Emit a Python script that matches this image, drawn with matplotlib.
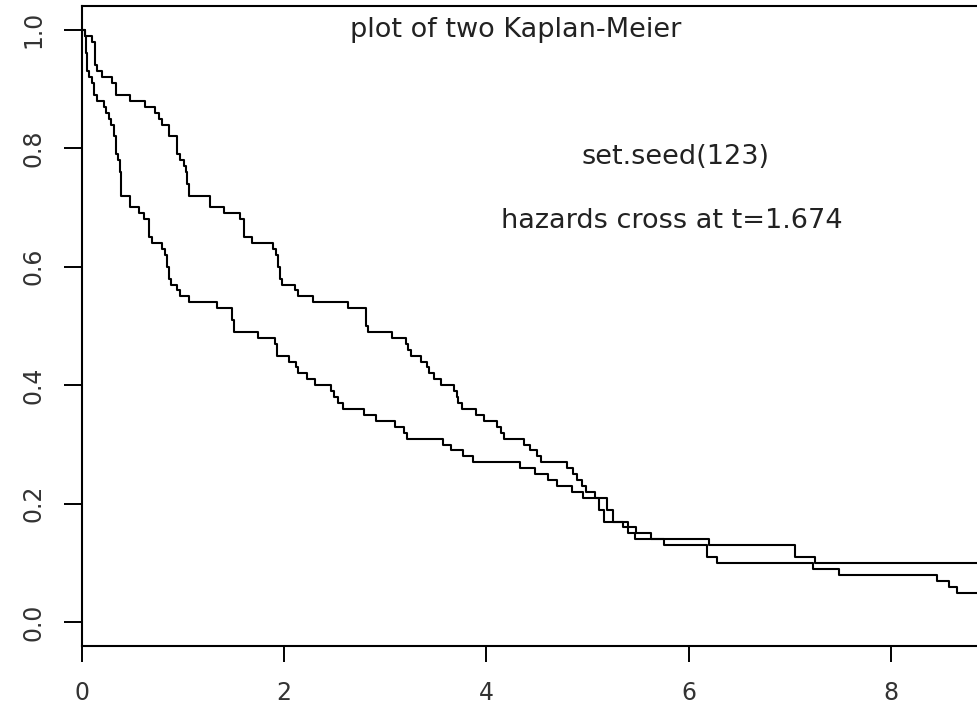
import matplotlib
matplotlib.use("Agg")
import matplotlib.pyplot as plt

# Kaplan-Meier step estimates for the two simulated groups (time, survival)
time_a = [0.0, 0.025, 0.037, 0.050, 0.069, 0.103, 0.116, 0.149, 0.215, 0.241,
          0.267, 0.290, 0.314, 0.334, 0.356, 0.380, 0.390, 0.472, 0.564, 0.615,
          0.658, 0.697, 0.796, 0.818, 0.841, 0.861, 0.885, 0.940, 0.974, 1.059,
          1.336, 1.488, 1.501, 1.742, 1.907, 1.927, 2.049, 2.115, 2.138, 2.222,
          2.308, 2.468, 2.491, 2.533, 2.583, 2.788, 2.906, 3.094, 3.184, 3.220,
          3.570, 3.655, 3.767, 3.873, 4.332, 4.480, 4.612, 4.700, 4.843, 4.958,
          5.196, 5.250, 5.403, 5.478, 5.625, 6.205, 7.053, 7.251, 9.000]
surv_a = [1.00, 0.99, 0.96, 0.93, 0.92, 0.91, 0.89, 0.88, 0.87, 0.86,
          0.85, 0.84, 0.82, 0.79, 0.78, 0.76, 0.72, 0.70, 0.69, 0.68,
          0.65, 0.64, 0.63, 0.62, 0.60, 0.58, 0.57, 0.56, 0.55, 0.54,
          0.53, 0.51, 0.49, 0.48, 0.47, 0.45, 0.44, 0.43, 0.42, 0.41,
          0.40, 0.39, 0.38, 0.37, 0.36, 0.35, 0.34, 0.33, 0.32, 0.31,
          0.30, 0.29, 0.28, 0.27, 0.26, 0.25, 0.24, 0.23, 0.22, 0.21,
          0.19, 0.17, 0.16, 0.15, 0.14, 0.13, 0.11, 0.10, 0.10]

time_b = [0.0, 0.027, 0.103, 0.126, 0.149, 0.201, 0.300, 0.333, 0.479, 0.620,
          0.720, 0.759, 0.795, 0.861, 0.940, 0.973, 1.006, 1.026, 1.039, 1.059,
          1.264, 1.402, 1.567, 1.600, 1.686, 1.890, 1.917, 1.940, 1.963, 1.983,
          2.105, 2.138, 2.286, 2.632, 2.808, 2.830, 3.070, 3.210, 3.226, 3.250,
          3.350, 3.410, 3.434, 3.480, 3.552, 3.678, 3.705, 3.720, 3.755, 3.896,
          3.975, 4.107, 4.150, 4.173, 4.371, 4.430, 4.503, 4.536, 4.794, 4.859,
          4.900, 4.942, 4.990, 5.074, 5.117, 5.160, 5.348, 5.403, 5.470, 5.757,
          6.185, 6.284, 7.228, 7.491, 8.455, 8.580, 8.659, 9.000]
surv_b = [1.00, 0.99, 0.98, 0.94, 0.93, 0.92, 0.91, 0.89, 0.88, 0.87,
          0.86, 0.85, 0.84, 0.82, 0.79, 0.78, 0.77, 0.76, 0.74, 0.72,
          0.70, 0.69, 0.68, 0.65, 0.64, 0.63, 0.62, 0.60, 0.58, 0.57,
          0.56, 0.55, 0.54, 0.53, 0.50, 0.49, 0.48, 0.47, 0.46, 0.45,
          0.44, 0.43, 0.42, 0.41, 0.40, 0.39, 0.38, 0.37, 0.36, 0.35,
          0.34, 0.33, 0.32, 0.31, 0.30, 0.29, 0.28, 0.27, 0.26, 0.25,
          0.24, 0.23, 0.22, 0.21, 0.19, 0.17, 0.16, 0.15, 0.14, 0.13,
          0.11, 0.10, 0.09, 0.08, 0.07, 0.06, 0.05, 0.05]

x_ticks = [0, 2, 4, 6, 8]
y_ticks = [0.0, 0.2, 0.4, 0.6, 0.8, 1.0]

fig = plt.figure(figsize=(9.77, 7.10), dpi=100)
ax = fig.add_axes([82 / 977, 64 / 710, 1 - 82 / 977, 640 / 710])

ax.step(time_a, surv_a, where="post", color="black", lw=1.5)
ax.step(time_b, surv_b, where="post", color="black", lw=1.5)

ax.set_xlim(0, 8.854)
ax.set_ylim(-0.04, 1.04)

ax.set_xticks(x_ticks)
ax.set_xticklabels([str(v) for v in x_ticks], fontsize=17, color="#333333")
ax.set_yticks(y_ticks)
ax.set_yticklabels([f"{v:.1f}" for v in y_ticks], fontsize=17, color="#333333",
                   rotation=90, va="center")
ax.tick_params(axis="x", length=11.5, width=1.4, pad=14)
ax.tick_params(axis="y", length=13, width=1.4, pad=13)

for side in ["left", "bottom", "top"]:
    ax.spines[side].set_linewidth(1.5)
ax.spines["right"].set_visible(False)

ax.text(4.29, 1.0, "plot of two Kaplan-Meier", fontsize=19.5, ha="center", va="center",
        color="#222222")
ax.text(5.87, 0.785, "set.seed(123)", fontsize=19.5, ha="center", va="center",
        color="#222222")
ax.text(5.83, 0.677, "hazards cross at t=1.674", fontsize=19.5, ha="center", va="center",
        color="#222222")

fig.savefig("out.png", dpi=100)
